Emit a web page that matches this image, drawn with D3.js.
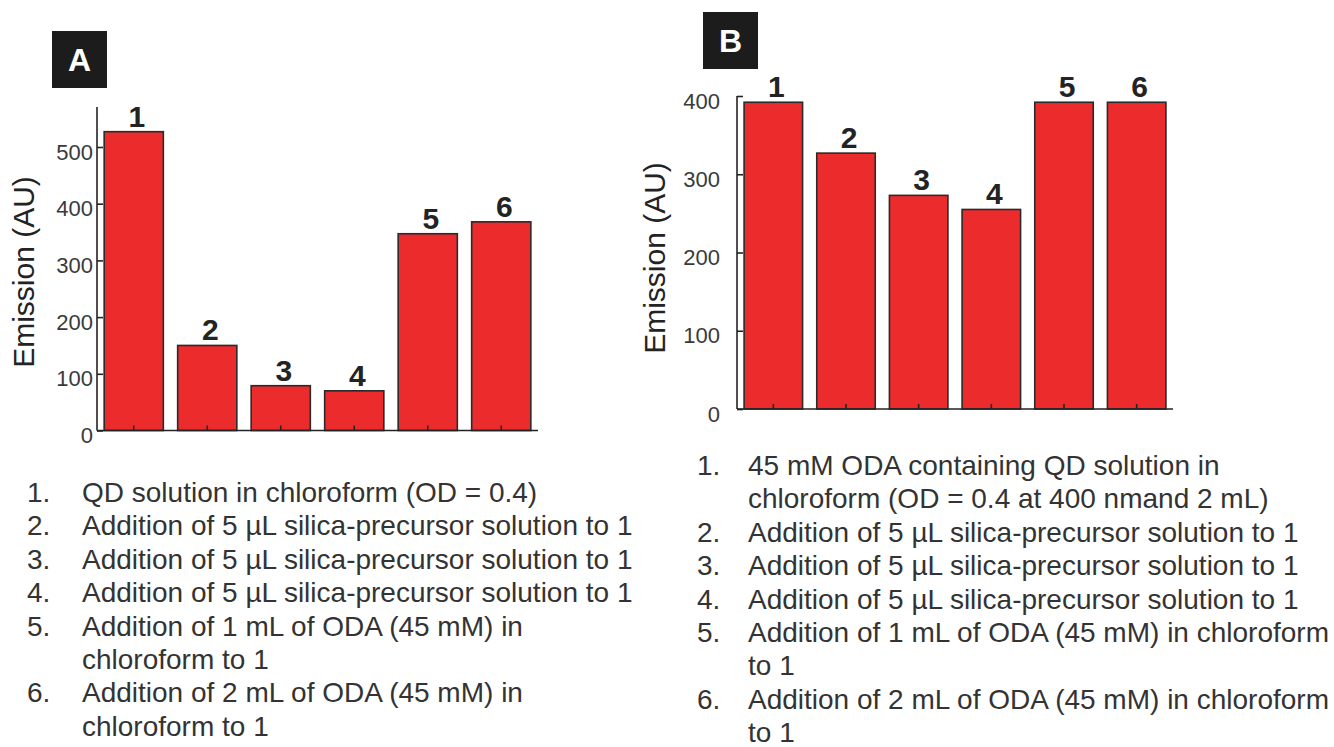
<!DOCTYPE html>
<html>
<head>
<meta charset="utf-8">
<script src="https://cdn.jsdelivr.net/npm/d3@7"></script>
<style>
  html, body { margin: 0; padding: 0; background: #fff; }
  svg { display: block; }
  text { font-family: "Liberation Sans", Arial, Helvetica, sans-serif; }
</style>
</head>
<body>
<svg id="fig" width="1334" height="747"></svg>
<script>
// Sample numbers shared by both panels
const categories = ["1", "2", "3", "4", "5", "6"];

// Panel A: emission after each treatment step
const emissionA = [527, 150, 79, 70, 347, 368];
const ticksA = [0, 100, 200, 300, 400, 500];

// Panel B: emission of ODA-containing QD solution
const emissionB = [392, 327, 273, 255, 392, 392];
const ticksB = [0, 100, 200, 300, 400];

const axisTitle = "Emission (AU)";

// Step descriptions listed under each panel (one array entry per wrapped line)
const legendA = [
  ["1.", "QD solution in chloroform (OD = 0.4)"],
  ["2.", "Addition of 5 \u00b5L silica-precursor solution to 1"],
  ["3.", "Addition of 5 \u00b5L silica-precursor solution to 1"],
  ["4.", "Addition of 5 \u00b5L silica-precursor solution to 1"],
  ["5.", "Addition of 1 mL of ODA (45 mM) in"],
  ["", "chloroform to 1"],
  ["6.", "Addition of 2 mL of ODA (45 mM) in"],
  ["", "chloroform to 1"]
];
const legendB = [
  ["1.", "45 mM ODA containing QD solution in"],
  ["", "chloroform (OD = 0.4 at 400 nmand 2 mL)"],
  ["2.", "Addition of 5 \u00b5L silica-precursor solution to 1"],
  ["3.", "Addition of 5 \u00b5L silica-precursor solution to 1"],
  ["4.", "Addition of 5 \u00b5L silica-precursor solution to 1"],
  ["5.", "Addition of 1 mL of ODA (45 mM) in chloroform"],
  ["", "to 1"],
  ["6.", "Addition of 2 mL of ODA (45 mM) in chloroform"],
  ["", "to 1"]
];

const svg = d3.select("#fig");
const RED = "#ec2b2c";
const INK = "#232323";

function panel(cfg) {
  const g = svg.append("g");
  const x = d3.scaleBand()
    .domain(categories)
    .range([cfg.x0, cfg.x1])
    .paddingInner(0.195)
    .paddingOuter(0.0975);
  const y = d3.scaleLinear()
    .domain([0, cfg.yMax])
    .range([cfg.yZero, cfg.yTop]);

  // bars
  g.selectAll("rect.bar")
    .data(cfg.values)
    .join("rect")
    .attr("class", "bar")
    .attr("x", (d, i) => x(categories[i]))
    .attr("y", d => y(d))
    .attr("width", x.bandwidth())
    .attr("height", d => y(0) - y(d))
    .attr("fill", RED)
    .attr("stroke", "#2a2a2a")
    .attr("stroke-width", 1.6);

  // bar number labels
  g.selectAll("text.num")
    .data(cfg.values)
    .join("text")
    .attr("class", "num")
    .attr("x", (d, i) => x(categories[i]) + x.bandwidth() / 2 + 3)
    .attr("y", d => y(d) - 5)
    .attr("text-anchor", "middle")
    .attr("font-size", 30)
    .attr("font-weight", "bold")
    .attr("fill", INK)
    .text((d, i) => categories[i]);

  // y axis (ticks point inward)
  const yAxis = d3.axisLeft(y)
    .tickValues(cfg.ticks)
    .tickSize(-6)
    .tickFormat(d3.format("d"))
    .tickPadding(cfg.labelGap);
  const ya = g.append("g")
    .attr("transform", `translate(${cfg.x0},0)`)
    .call(yAxis);
  ya.select(".domain").remove();
  ya.append("line")
    .attr("x1", 0).attr("x2", 0)
    .attr("y1", cfg.yZero).attr("y2", cfg.axisTop)
    .attr("stroke", INK).attr("stroke-width", 1.6);
  ya.selectAll(".tick line").attr("stroke", INK).attr("stroke-width", 1.6);
  ya.selectAll(".tick text")
    .attr("font-size", 22)
    .attr("fill", "#3a3a3a")
    .attr("dy", "0.55em")
    .style("font-family", "'Liberation Sans', Arial, sans-serif");

  // x axis with small inward ticks at bar centres
  const xAxis = d3.axisBottom(x).tickSize(-5).tickFormat("");
  const xa = g.append("g")
    .attr("transform", `translate(0,${cfg.yZero})`)
    .call(xAxis);
  xa.select(".domain").remove();
  xa.append("line")
    .attr("x1", cfg.x0).attr("x2", cfg.x1)
    .attr("y1", 0).attr("y2", 0)
    .attr("stroke", INK).attr("stroke-width", 1.6);
  xa.selectAll(".tick line").attr("stroke", INK).attr("stroke-width", 1.6);

  // axis title
  g.append("text")
    .attr("transform", `translate(${cfg.titleX},${cfg.titleY}) rotate(-90)`)
    .attr("text-anchor", "middle")
    .attr("font-size", 30)
    .attr("fill", INK)
    .text(axisTitle);

  // panel letter badge
  g.append("rect")
    .attr("x", cfg.badge[0]).attr("y", cfg.badge[1])
    .attr("width", 55).attr("height", 57)
    .attr("fill", "#1c1c1c");
  g.append("text")
    .attr("x", cfg.badge[0] + 27.5).attr("y", cfg.badge[1] + 40)
    .attr("text-anchor", "middle")
    .attr("font-size", 32)
    .attr("font-weight", "bold")
    .attr("fill", "#fff")
    .text(cfg.letter);

  // step list
  const lg = g.append("g");
  cfg.legend.forEach((row, i) => {
    const by = cfg.legendY + i * cfg.legendStep;
    if (row[0]) {
      lg.append("text")
        .attr("x", cfg.numX).attr("y", by)
        .attr("font-size", 28).attr("fill", "#333")
        .text(row[0]);
    }
    lg.append("text")
      .attr("x", cfg.textX).attr("y", by)
      .attr("font-size", 28).attr("fill", "#333")
      .text(row[1]);
  });
}

panel({
  letter: "A", values: emissionA, ticks: ticksA, yMax: 570,
  x0: 97, x1: 538, yZero: 430.5, yTop: 107.3, axisTop: 107,
  labelGap: 4, titleX: 34, titleY: 272, badge: [52, 31],
  legend: legendA, legendY: 502, legendStep: 33.4, numX: 27, textX: 82
});

panel({
  letter: "B", values: emissionB, ticks: ticksB, yMax: 400,
  x0: 737, x1: 1173, yZero: 409, yTop: 96, axisTop: 96,
  labelGap: 17, titleX: 665, titleY: 258, badge: [703, 12],
  legend: legendB, legendY: 475, legendStep: 33.4, numX: 697, textX: 748
});
</script>
</body>
</html>
